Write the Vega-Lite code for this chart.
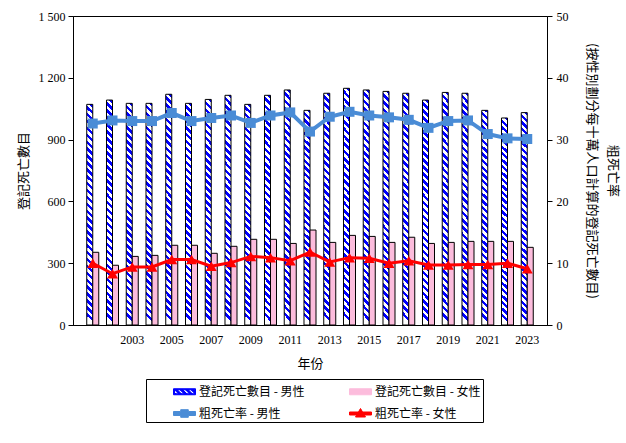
{
  "$schema": "https://vega.github.io/schema/vega-lite/v6.json",
  "width": 474,
  "height": 309,
  "autosize": "none",
  "padding": {"left": 73, "top": 16, "right": 79, "bottom": 118},
  "background": "white",
  "data": {
    "values": [
      {"year": "2001", "sex": "男性", "deaths": 1071, "rate": 32.6},
      {"year": "2002", "sex": "男性", "deaths": 1092, "rate": 33.1},
      {"year": "2003", "sex": "男性", "deaths": 1076, "rate": 33.0},
      {"year": "2004", "sex": "男性", "deaths": 1076, "rate": 33.0},
      {"year": "2005", "sex": "男性", "deaths": 1120, "rate": 34.3},
      {"year": "2006", "sex": "男性", "deaths": 1076, "rate": 33.0},
      {"year": "2007", "sex": "男性", "deaths": 1095, "rate": 33.5},
      {"year": "2008", "sex": "男性", "deaths": 1115, "rate": 33.9},
      {"year": "2009", "sex": "男性", "deaths": 1071, "rate": 32.7},
      {"year": "2010", "sex": "男性", "deaths": 1115, "rate": 33.9},
      {"year": "2011", "sex": "男性", "deaths": 1141, "rate": 34.4},
      {"year": "2012", "sex": "男性", "deaths": 1042, "rate": 31.3},
      {"year": "2013", "sex": "男性", "deaths": 1125, "rate": 33.7},
      {"year": "2014", "sex": "男性", "deaths": 1149, "rate": 34.5},
      {"year": "2015", "sex": "男性", "deaths": 1141, "rate": 33.9},
      {"year": "2016", "sex": "男性", "deaths": 1134, "rate": 33.6},
      {"year": "2017", "sex": "男性", "deaths": 1125, "rate": 33.2},
      {"year": "2018", "sex": "男性", "deaths": 1092, "rate": 31.9},
      {"year": "2019", "sex": "男性", "deaths": 1129, "rate": 33.0},
      {"year": "2020", "sex": "男性", "deaths": 1125, "rate": 33.1},
      {"year": "2021", "sex": "男性", "deaths": 1042, "rate": 30.9},
      {"year": "2022", "sex": "男性", "deaths": 1005, "rate": 30.2},
      {"year": "2023", "sex": "男性", "deaths": 1031, "rate": 30.1},
      {"year": "2001", "sex": "女性", "deaths": 353, "rate": 10.0},
      {"year": "2002", "sex": "女性", "deaths": 290, "rate": 8.3},
      {"year": "2003", "sex": "女性", "deaths": 333, "rate": 9.4},
      {"year": "2004", "sex": "女性", "deaths": 338, "rate": 9.4},
      {"year": "2005", "sex": "女性", "deaths": 387, "rate": 10.6},
      {"year": "2006", "sex": "女性", "deaths": 387, "rate": 10.6},
      {"year": "2007", "sex": "女性", "deaths": 348, "rate": 9.5},
      {"year": "2008", "sex": "女性", "deaths": 382, "rate": 10.1},
      {"year": "2009", "sex": "女性", "deaths": 416, "rate": 11.1},
      {"year": "2010", "sex": "女性", "deaths": 416, "rate": 10.9},
      {"year": "2011", "sex": "女性", "deaths": 396, "rate": 10.4},
      {"year": "2012", "sex": "女性", "deaths": 461, "rate": 11.8},
      {"year": "2013", "sex": "女性", "deaths": 401, "rate": 10.2},
      {"year": "2014", "sex": "女性", "deaths": 435, "rate": 10.9},
      {"year": "2015", "sex": "女性", "deaths": 430, "rate": 10.8},
      {"year": "2016", "sex": "女性", "deaths": 401, "rate": 10.0},
      {"year": "2017", "sex": "女性", "deaths": 426, "rate": 10.4},
      {"year": "2018", "sex": "女性", "deaths": 396, "rate": 9.7},
      {"year": "2019", "sex": "女性", "deaths": 401, "rate": 9.7},
      {"year": "2020", "sex": "女性", "deaths": 406, "rate": 9.8},
      {"year": "2021", "sex": "女性", "deaths": 406, "rate": 9.8},
      {"year": "2022", "sex": "女性", "deaths": 406, "rate": 10.0},
      {"year": "2023", "sex": "女性", "deaths": 377, "rate": 9.1}
    ]
  },
  "encoding": {
    "x": {
      "field": "year",
      "type": "ordinal",
      "title": "年份",
      "scale": {"paddingInner": 0.392, "paddingOuter": 0.696},
      "axis": {
        "values": ["2003", "2005", "2007", "2009", "2011", "2013", "2015", "2017", "2019", "2021", "2023"],
        "ticks": false,
        "labelAngle": 0,
        "labelPadding": 9,
        "titlePadding": 12
      }
    }
  },
  "layer": [
    {
      "encoding": {
        "y": {
          "field": "deaths",
          "type": "quantitative",
          "title": "登記死亡數目",
          "scale": {"domain": [0, 1500]},
          "axis": {
            "values": [0, 300, 600, 900, 1200, 1500],
            "labelExpr": "replace(format(datum.value, ','), ',', ' ')",
            "tickSize": 5,
            "labelPadding": 3,
            "titlePadding": 8
          }
        },
        "xOffset": {"field": "sex", "scale": {"domain": ["男性", "女性"]}}
      },
      "layer": [
        {
          "transform": [{"filter": "datum.sex === '男性'"}],
          "mark": {
            "type": "bar",
            "stroke": "#000000",
            "strokeWidth": 1,
            "fill": {
              "gradient": "linear",
              "x1": 1, "y1": 0, "x2": 0.973, "y2": 1,
              "stops": [
                {"offset": 0, "color": "#0000ff"}, {"offset": 0.015625, "color": "#0000ff"},
                {"offset": 0.015625, "color": "#ffffff"}, {"offset": 0.03125, "color": "#ffffff"},
                {"offset": 0.03125, "color": "#0000ff"}, {"offset": 0.046875, "color": "#0000ff"},
                {"offset": 0.046875, "color": "#ffffff"}, {"offset": 0.0625, "color": "#ffffff"},
                {"offset": 0.0625, "color": "#0000ff"}, {"offset": 0.078125, "color": "#0000ff"},
                {"offset": 0.078125, "color": "#ffffff"}, {"offset": 0.09375, "color": "#ffffff"},
                {"offset": 0.09375, "color": "#0000ff"}, {"offset": 0.109375, "color": "#0000ff"},
                {"offset": 0.109375, "color": "#ffffff"}, {"offset": 0.125, "color": "#ffffff"},
                {"offset": 0.125, "color": "#0000ff"}, {"offset": 0.140625, "color": "#0000ff"},
                {"offset": 0.140625, "color": "#ffffff"}, {"offset": 0.15625, "color": "#ffffff"},
                {"offset": 0.15625, "color": "#0000ff"}, {"offset": 0.171875, "color": "#0000ff"},
                {"offset": 0.171875, "color": "#ffffff"}, {"offset": 0.1875, "color": "#ffffff"},
                {"offset": 0.1875, "color": "#0000ff"}, {"offset": 0.203125, "color": "#0000ff"},
                {"offset": 0.203125, "color": "#ffffff"}, {"offset": 0.21875, "color": "#ffffff"},
                {"offset": 0.21875, "color": "#0000ff"}, {"offset": 0.234375, "color": "#0000ff"},
                {"offset": 0.234375, "color": "#ffffff"}, {"offset": 0.25, "color": "#ffffff"},
                {"offset": 0.25, "color": "#0000ff"}, {"offset": 0.265625, "color": "#0000ff"},
                {"offset": 0.265625, "color": "#ffffff"}, {"offset": 0.28125, "color": "#ffffff"},
                {"offset": 0.28125, "color": "#0000ff"}, {"offset": 0.296875, "color": "#0000ff"},
                {"offset": 0.296875, "color": "#ffffff"}, {"offset": 0.3125, "color": "#ffffff"},
                {"offset": 0.3125, "color": "#0000ff"}, {"offset": 0.328125, "color": "#0000ff"},
                {"offset": 0.328125, "color": "#ffffff"}, {"offset": 0.34375, "color": "#ffffff"},
                {"offset": 0.34375, "color": "#0000ff"}, {"offset": 0.359375, "color": "#0000ff"},
                {"offset": 0.359375, "color": "#ffffff"}, {"offset": 0.375, "color": "#ffffff"},
                {"offset": 0.375, "color": "#0000ff"}, {"offset": 0.390625, "color": "#0000ff"},
                {"offset": 0.390625, "color": "#ffffff"}, {"offset": 0.40625, "color": "#ffffff"},
                {"offset": 0.40625, "color": "#0000ff"}, {"offset": 0.421875, "color": "#0000ff"},
                {"offset": 0.421875, "color": "#ffffff"}, {"offset": 0.4375, "color": "#ffffff"},
                {"offset": 0.4375, "color": "#0000ff"}, {"offset": 0.453125, "color": "#0000ff"},
                {"offset": 0.453125, "color": "#ffffff"}, {"offset": 0.46875, "color": "#ffffff"},
                {"offset": 0.46875, "color": "#0000ff"}, {"offset": 0.484375, "color": "#0000ff"},
                {"offset": 0.484375, "color": "#ffffff"}, {"offset": 0.5, "color": "#ffffff"},
                {"offset": 0.5, "color": "#0000ff"}, {"offset": 0.515625, "color": "#0000ff"},
                {"offset": 0.515625, "color": "#ffffff"}, {"offset": 0.53125, "color": "#ffffff"},
                {"offset": 0.53125, "color": "#0000ff"}, {"offset": 0.546875, "color": "#0000ff"},
                {"offset": 0.546875, "color": "#ffffff"}, {"offset": 0.5625, "color": "#ffffff"},
                {"offset": 0.5625, "color": "#0000ff"}, {"offset": 0.578125, "color": "#0000ff"},
                {"offset": 0.578125, "color": "#ffffff"}, {"offset": 0.59375, "color": "#ffffff"},
                {"offset": 0.59375, "color": "#0000ff"}, {"offset": 0.609375, "color": "#0000ff"},
                {"offset": 0.609375, "color": "#ffffff"}, {"offset": 0.625, "color": "#ffffff"},
                {"offset": 0.625, "color": "#0000ff"}, {"offset": 0.640625, "color": "#0000ff"},
                {"offset": 0.640625, "color": "#ffffff"}, {"offset": 0.65625, "color": "#ffffff"},
                {"offset": 0.65625, "color": "#0000ff"}, {"offset": 0.671875, "color": "#0000ff"},
                {"offset": 0.671875, "color": "#ffffff"}, {"offset": 0.6875, "color": "#ffffff"},
                {"offset": 0.6875, "color": "#0000ff"}, {"offset": 0.703125, "color": "#0000ff"},
                {"offset": 0.703125, "color": "#ffffff"}, {"offset": 0.71875, "color": "#ffffff"},
                {"offset": 0.71875, "color": "#0000ff"}, {"offset": 0.734375, "color": "#0000ff"},
                {"offset": 0.734375, "color": "#ffffff"}, {"offset": 0.75, "color": "#ffffff"},
                {"offset": 0.75, "color": "#0000ff"}, {"offset": 0.765625, "color": "#0000ff"},
                {"offset": 0.765625, "color": "#ffffff"}, {"offset": 0.78125, "color": "#ffffff"},
                {"offset": 0.78125, "color": "#0000ff"}, {"offset": 0.796875, "color": "#0000ff"},
                {"offset": 0.796875, "color": "#ffffff"}, {"offset": 0.8125, "color": "#ffffff"},
                {"offset": 0.8125, "color": "#0000ff"}, {"offset": 0.828125, "color": "#0000ff"},
                {"offset": 0.828125, "color": "#ffffff"}, {"offset": 0.84375, "color": "#ffffff"},
                {"offset": 0.84375, "color": "#0000ff"}, {"offset": 0.859375, "color": "#0000ff"},
                {"offset": 0.859375, "color": "#ffffff"}, {"offset": 0.875, "color": "#ffffff"},
                {"offset": 0.875, "color": "#0000ff"}, {"offset": 0.890625, "color": "#0000ff"},
                {"offset": 0.890625, "color": "#ffffff"}, {"offset": 0.90625, "color": "#ffffff"},
                {"offset": 0.90625, "color": "#0000ff"}, {"offset": 0.921875, "color": "#0000ff"},
                {"offset": 0.921875, "color": "#ffffff"}, {"offset": 0.9375, "color": "#ffffff"},
                {"offset": 0.9375, "color": "#0000ff"}, {"offset": 0.953125, "color": "#0000ff"},
                {"offset": 0.953125, "color": "#ffffff"}, {"offset": 0.96875, "color": "#ffffff"},
                {"offset": 0.96875, "color": "#0000ff"}, {"offset": 0.984375, "color": "#0000ff"},
                {"offset": 0.984375, "color": "#ffffff"}, {"offset": 1, "color": "#ffffff"}
              ]
            }
          }
        },
        {
          "transform": [{"filter": "datum.sex === '女性'"}],
          "mark": {"type": "bar", "stroke": "#000000", "strokeWidth": 1, "fill": "#fcbcdc"}
        }
      ]
    },
    {
      "encoding": {
        "y": {
          "field": "rate",
          "type": "quantitative",
          "title": ["粗死亡率", "(按性別劃分每十萬人口計算的登記死亡數目)"],
          "scale": {"domain": [0, 50]},
          "axis": {
            "orient": "right",
            "values": [0, 10, 20, 30, 40, 50],
            "tickSize": 5,
            "labelPadding": 4,
            "titlePadding": 16,
            "titleLineHeight": 21
          }
        }
      },
      "layer": [
        {
          "transform": [{"filter": "datum.sex === '男性'"}],
          "mark": {
            "type": "line",
            "strokeWidth": 4,
            "point": {"shape": "square", "size": 100, "filled": true, "opacity": 1}
          },
          "encoding": {
            "color": {
              "datum": "粗死亡率 - 男性",
              "scale": {
                "domain": ["登記死亡數目 - 男性", "登記死亡數目 - 女性", "粗死亡率 - 男性", "粗死亡率 - 女性"],
                "range": ["#0000ff", "#fcbcdc", "#4a8cd6", "#ff0000"]
              },
              "legend": {
                "title": null,
                "orient": "none",
                "legendX": 73,
                "legendY": 363,
                "columns": 2,
                "direction": "horizontal",
                "strokeColor": "#000000",
                "padding": 2,
                "symbolOffset": 26,
                "symbolSize": 400,
                "labelOffset": 4,
                "columnPadding": 19,
                "rowPadding": 5,
                "labelFont": "Noto Sans CJK TC",
                "labelFontSize": 12,
                "labelColor": "#000000",
                "labelLimit": 300,
                "encode": {
                  "symbols": {
                    "update": {
                      "shape": [
                        {"test": "datum.value === '粗死亡率 - 男性'", "value": "M-1.1,-0.2H-0.38V-0.38H0.38V-0.2H1.1V0.2H0.38V0.38H-0.38V0.2H-1.1Z"},
                        {"test": "datum.value === '粗死亡率 - 女性'", "value": "M-1.1,-0.15H-0.206L0,-0.5L0.206,-0.15H1.1V0.15H0.382L0.5,0.35H-0.5L-0.382,0.15H-1.1Z"},
                        {"test": "datum.value === '登記死亡數目 - 男性'", "value": "M-1.1,-0.3H1.1V0.3H-1.1Z M-1,-0.2V0.2H1V-0.2Z M-1,0.07L-0.87,0.2H-1Z M-1,-0.2H-0.72L-0.32,0.2H-0.6Z M-0.45,-0.2H-0.17L0.23,0.2H-0.05Z M0.1,-0.2H0.38L0.78,0.2H0.5Z M0.65,-0.2H0.93L1,-0.13V0.15Z"},
                        {"value": "M-1.1,-0.3H1.1V0.3H-1.1Z"}
                      ],
                      "stroke": [
                        {"test": "datum.value === '登記死亡數目 - 女性'", "value": "#000000"},
                        {"value": "transparent"}
                      ],
                      "strokeWidth": {"value": 1},
                      "size": {"value": 400},
                      "opacity": {"value": 1},
                      "fillOpacity": {"value": 1},
                      "strokeOpacity": {"value": 1}
                    }
                  }
                }
              }
            }
          }
        },
        {
          "transform": [{"filter": "datum.sex === '女性'"}],
          "mark": {
            "type": "line",
            "strokeWidth": 3,
            "point": {"shape": "triangle-up", "size": 120, "filled": true, "opacity": 1}
          },
          "encoding": {
            "color": {"datum": "粗死亡率 - 女性"}
          }
        }
      ]
    }
  ],
  "resolve": {"scale": {"y": "independent"}},
  "config": {
    "font": "Liberation Serif",
    "view": {"stroke": "#000000", "strokeWidth": 1},
    "axis": {
      "grid": false,
      "labelFont": "Liberation Serif",
      "labelFontSize": 12,
      "labelColor": "#000000",
      "titleFont": "Noto Sans CJK TC",
      "titleFontSize": 13,
      "titleFontWeight": "normal",
      "titleColor": "#000000",
      "domainColor": "#000000",
      "tickColor": "#000000"
    }
  }
}
